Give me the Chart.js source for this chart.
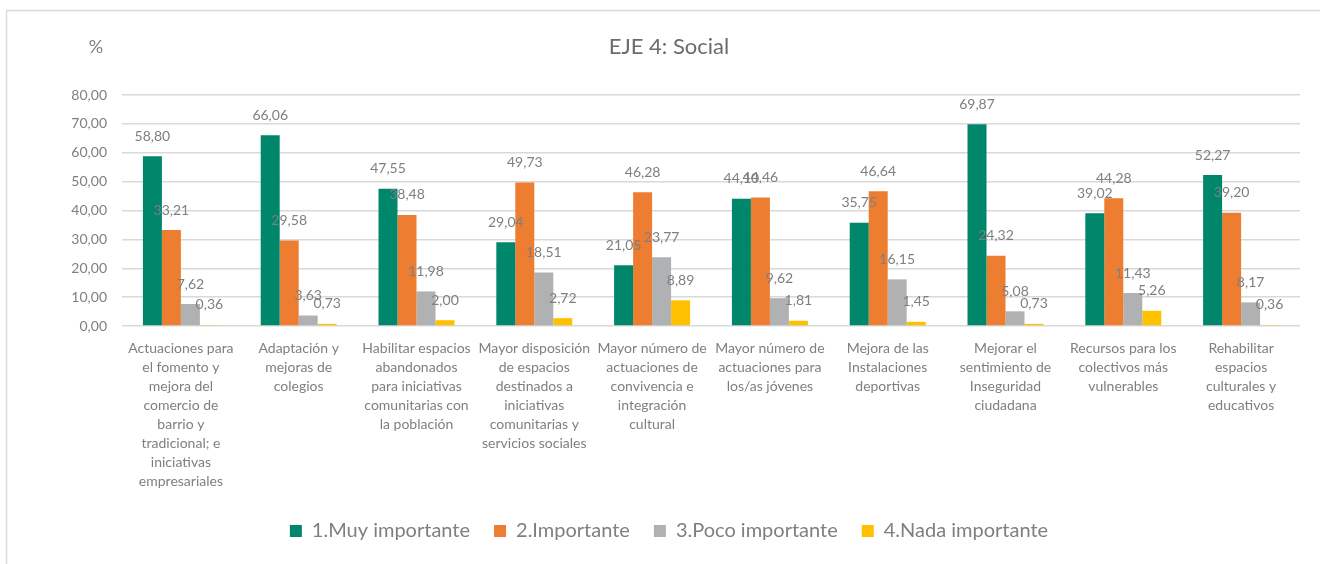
<!DOCTYPE html>
<html>
<head>
<meta charset="utf-8">
<script src="https://cdn.jsdelivr.net/npm/chart.js@4"></script>
<style>
  html, body { margin: 0; padding: 0; background: #fff; }
  #wrap { width: 1320px; height: 564px; position: relative; }
</style>
</head>
<body>
<div id="wrap"><canvas id="grafico"></canvas></div>
<script>
// =========================
// DATOS
// =========================
const categorias = [
  ["Actuaciones para", "el fomento y", "mejora del", "comercio de", "barrio y", "tradicional; e", "iniciativas", "empresariales"],
  ["Adaptación y", "mejoras de", "colegios"],
  ["Habilitar espacios", "abandonados", "para iniciativas", "comunitarias con", "la población"],
  ["Mayor disposición", "de espacios", "destinados a", "iniciativas", "comunitarias y", "servicios sociales"],
  ["Mayor número de", "actuaciones de", "convivencia e", "integración", "cultural"],
  ["Mayor número de", "actuaciones para", "los/as jóvenes"],
  ["Mejora de las", "Instalaciones", "deportivas"],
  ["Mejorar el", "sentimiento de", "Inseguridad", "ciudadana"],
  ["Recursos para los", "colectivos más", "vulnerables"],
  ["Rehabilitar", "espacios", "culturales y", "educativos"]
];

const muyImportante  = [58.80, 66.06, 47.55, 29.04, 21.05, 44.10, 35.75, 69.87, 39.02, 52.27];
const importante     = [33.21, 29.58, 38.48, 49.73, 46.28, 44.46, 46.64, 24.32, 44.28, 39.20];
const pocoImportante = [7.62, 3.63, 11.98, 18.51, 23.77, 9.62, 16.15, 5.08, 11.43, 8.17];
const nadaImportante = [0.36, 0.73, 2.00, 2.72, 8.89, 1.81, 1.45, 0.73, 5.26, 0.36];

const ticksY = [0, 10, 20, 30, 40, 50, 60, 70, 80];

const FUENTE = "Lato, 'Open Sans', sans-serif";
const GRIS_TEXTO = "#7f7f7f";

const coma = v => v.toFixed(2).replace(".", ",");

// =========================
// PLUGINS
// =========================
// etiquetas encima de cada barra
const etiquetas = {
  id: "etiquetas",
  afterDatasetsDraw(chart) {
    const { ctx } = chart;
    ctx.save();
    ctx.font = "14px " + FUENTE;
    ctx.fillStyle = GRIS_TEXTO;
    ctx.textAlign = "center";
    ctx.textBaseline = "middle";
    chart.data.datasets.forEach((ds, i) => {
      chart.getDatasetMeta(i).data.forEach((bar, j) => {
        ctx.fillText(coma(ds.data[j]), bar.x, bar.y - 20);
      });
    });
    ctx.restore();
  }
};

// marco y simbolo %
const marco = {
  id: "marco",
  beforeDraw(chart) {
    const { ctx } = chart;
    ctx.save();
    ctx.strokeStyle = "#d9d9d9";
    ctx.lineWidth = 1.5;
    ctx.beginPath();
    ctx.moveTo(6.5, 564);
    ctx.lineTo(6.5, 10.5);
    ctx.lineTo(1320, 10.5);
    ctx.stroke();
    ctx.restore();
  },
  afterDraw(chart) {
    const { ctx } = chart;
    ctx.save();
    ctx.font = "18px " + FUENTE;
    ctx.fillStyle = GRIS_TEXTO;
    ctx.textAlign = "center";
    ctx.textBaseline = "middle";
    ctx.fillText("%", 96, 47);
    ctx.restore();
  }
};

// =========================
// GRAFICO
// =========================
const ctx = document.getElementById("grafico");

new Chart(ctx, {
  type: "bar",
  data: {
    labels: categorias,
    datasets: [
      { label: "1.Muy importante", data: muyImportante, backgroundColor: "#00876b" },
      { label: "2.Importante", data: importante, backgroundColor: "#ed7d31" },
      { label: "3.Poco importante", data: pocoImportante, backgroundColor: "#b0b1b3" },
      { label: "4.Nada importante", data: nadaImportante, backgroundColor: "#ffc000" }
    ]
  },
  options: {
    responsive: true,
    maintainAspectRatio: false,
    animation: false,
    layout: { padding: { left: 38, right: 20, top: 0, bottom: 13 } },
    datasets: {
      bar: { categoryPercentage: 0.645, barPercentage: 1, borderWidth: 0 }
    },
    plugins: {
      title: {
        display: true,
        text: "EJE 4: Social",
        color: "#6b6b6b",
        font: { family: FUENTE, size: 22, weight: "normal" },
        padding: { top: 34, bottom: 34.6 }
      },
      legend: {
        position: "bottom",
        labels: {
          boxWidth: 12,
          boxHeight: 12,
          padding: 24,
          color: GRIS_TEXTO,
          font: { family: FUENTE, size: 20 }
        }
      },
      tooltip: { enabled: false }
    },
    scales: {
      x: {
        grid: { display: false, drawTicks: false },
        border: { display: false },
        ticks: {
          autoSkip: false,
          maxRotation: 0,
          padding: 13,
          color: GRIS_TEXTO,
          font: { family: FUENTE, size: 14, lineHeight: 1.36 }
        },
        afterFit(scale) { scale.height = 171; }
      },
      y: {
        min: 0,
        max: 80,
        afterBuildTicks(scale) { scale.ticks = ticksY.map(v => ({ value: v })); },
        grid: { color: "#d9d9d9", lineWidth: 1.5, drawTicks: false },
        border: { display: false },
        ticks: {
          padding: 15,
          color: GRIS_TEXTO,
          font: { family: FUENTE, size: 14 },
          callback: v => coma(v)
        },
        afterFit(scale) { scale.width = 84; }
      }
    }
  },
  plugins: [etiquetas, marco]
});
</script>
</body>
</html>
